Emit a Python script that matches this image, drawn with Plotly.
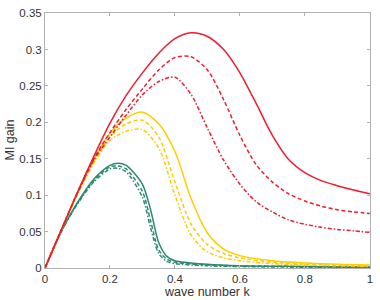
import plotly.graph_objects as go

# wave number grid per curve
k_red = [0, 0.05, 0.1, 0.15, 0.2, 0.25, 0.3, 0.35, 0.4, 0.45, 0.5, 0.55, 0.6, 0.65, 0.7, 0.75, 0.8, 0.85, 0.9, 0.95, 1.0]
red_solid = [0, 0.052, 0.104, 0.153, 0.199, 0.237, 0.268, 0.295, 0.315, 0.323, 0.318, 0.300, 0.268, 0.226, 0.182, 0.149, 0.131, 0.120, 0.113, 0.107, 0.102]
red_dash = [0, 0.052, 0.104, 0.150, 0.186, 0.218, 0.246, 0.272, 0.289, 0.290, 0.272, 0.231, 0.182, 0.142, 0.118, 0.102, 0.092, 0.085, 0.080, 0.077, 0.075]
red_dashdot = [0, 0.052, 0.103, 0.148, 0.180, 0.210, 0.238, 0.256, 0.262, 0.238, 0.192, 0.148, 0.115, 0.091, 0.077, 0.066, 0.060, 0.056, 0.053, 0.051, 0.049]

k_yel = [0, 0.05, 0.1, 0.15, 0.2, 0.25, 0.3, 0.35, 0.4, 0.45, 0.5, 0.55, 0.6, 0.7, 0.8, 0.9, 1.0]
yel_solid = [0, 0.052, 0.103, 0.148, 0.185, 0.206, 0.214, 0.198, 0.160, 0.095, 0.048, 0.026, 0.017, 0.010, 0.007, 0.005, 0.004]
yel_dash = [0, 0.052, 0.102, 0.146, 0.180, 0.198, 0.203, 0.180, 0.118, 0.060, 0.032, 0.020, 0.014, 0.008, 0.005, 0.004, 0.003]
yel_dashdot = [0, 0.052, 0.101, 0.144, 0.175, 0.188, 0.190, 0.165, 0.100, 0.045, 0.022, 0.014, 0.010, 0.006, 0.004, 0.003, 0.002]

k_grn = [0, 0.05, 0.1, 0.15, 0.2, 0.225, 0.25, 0.3, 0.325, 0.35, 0.375, 0.4, 0.5, 0.6, 0.8, 1.0]
grn_solid = [0, 0.050, 0.090, 0.122, 0.141, 0.144, 0.141, 0.115, 0.080, 0.035, 0.016, 0.010, 0.005, 0.003, 0.002, 0.001]
grn_dash = [0, 0.050, 0.089, 0.120, 0.139, 0.140, 0.136, 0.105, 0.065, 0.025, 0.012, 0.008, 0.004, 0.003, 0.002, 0.001]
grn_dashdot = [0, 0.050, 0.088, 0.118, 0.136, 0.137, 0.132, 0.097, 0.055, 0.020, 0.009, 0.006, 0.003, 0.002, 0.001, 0.001]

x_ticks = [0, 0.2, 0.4, 0.6, 0.8, 1]
x_labels = ["0", "0.2", "0.4", "0.6", "0.8", "1"]
y_ticks = [0, 0.05, 0.1, 0.15, 0.2, 0.25, 0.3, 0.35]
y_labels = ["0", "0.05", "0.1", "0.15", "0.2", "0.25", "0.3", "0.35"]

RED = "#ee1c2e"
YEL = "#ffcc00"
GRN = "#2a8a70"
DASH = "4px,2.5px"
DASHDOT = "4px,2px,1.5px,2px"
FONT = "Liberation Sans, Arial, sans-serif"

fig = go.Figure()
series = [
    (k_grn, grn_dashdot, GRN, DASHDOT),
    (k_grn, grn_dash, GRN, DASH),
    (k_grn, grn_solid, GRN, "solid"),
    (k_yel, yel_dashdot, YEL, DASHDOT),
    (k_yel, yel_dash, YEL, DASH),
    (k_yel, yel_solid, YEL, "solid"),
    (k_red, red_dashdot, RED, DASHDOT),
    (k_red, red_dash, RED, DASH),
    (k_red, red_solid, RED, "solid"),
]
for xs, ys, c, d in series:
    fig.add_trace(go.Scatter(x=xs, y=ys, mode="lines",
                             line=dict(color=c, width=1.5, dash=d, shape="spline", smoothing=0.8),
                             showlegend=False, hoverinfo="skip"))

axis_common = dict(showline=True, mirror="ticks", linecolor="#b0b0b0", linewidth=1,
                   ticks="inside", ticklen=3, tickcolor="#b0b0b0",
                   showgrid=False, zeroline=False,
                   tickfont=dict(family=FONT, size=11.5, color="#333333"))

fig.update_layout(
    width=380, height=300,
    margin=dict(l=45, r=7, t=10, b=32),
    paper_bgcolor="white", plot_bgcolor="white",
    xaxis=dict(range=[0, 1.0005], tickvals=x_ticks, ticktext=x_labels, **axis_common),
    yaxis=dict(range=[0, 0.3502], tickvals=y_ticks, ticktext=y_labels, **axis_common),
    annotations=[
        dict(text="wave number k", xref="paper", yref="paper", x=0.5, y=0,
             xanchor="center", yanchor="top", yshift=-15, showarrow=False,
             font=dict(family=FONT, size=12.5, color="#333333")),
        dict(text="MI gain", xref="paper", yref="paper", x=0, y=0.5,
             xanchor="right", yanchor="middle", xshift=-27, textangle=-90, showarrow=False,
             font=dict(family=FONT, size=12.5, color="#333333")),
    ],
)

fig.write_html("out.html", config={"displayModeBar": False},
               post_script="document.body.style.margin='0';")
